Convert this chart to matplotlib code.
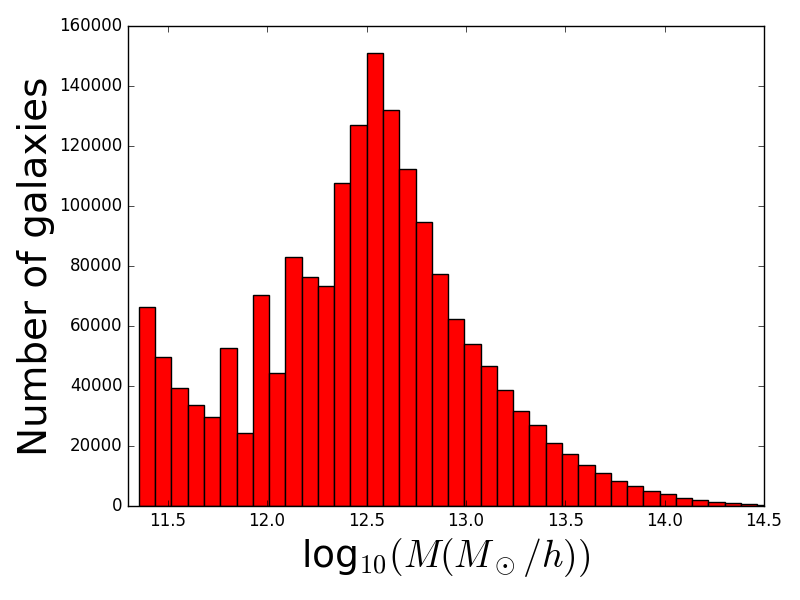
import numpy as np
import matplotlib
matplotlib.use('Agg')
import matplotlib.pyplot as plt

plt.style.use('classic')
plt.rcParams['mathtext.fontset'] = 'cm'

# histogram counts per bin
counts = [66400, 49600, 39200, 33600, 29600, 52600, 24200, 70200, 44200, 82900,
          76200, 73200, 107600, 126900, 150900, 131900, 112200, 94600, 77200, 62200,
          54100, 46600, 38600, 31600, 26900, 21000, 17200, 13600, 10900, 8300,
          6600, 4900, 3900, 2600, 1900, 1200, 900, 500, 200]
mass_min = 11.355
mass_max = 14.548

edges = np.linspace(mass_min, mass_max, len(counts) + 1)

fig = plt.figure(figsize=(8, 6), dpi=100)
ax = fig.add_axes([0.16, 0.1567, 0.795, 0.8])
ax.bar(edges[:-1], counts, width=np.diff(edges), align='edge',
       color='red', edgecolor='black', linewidth=1)
ax.set_xlim(11.3, 14.5)
ax.set_ylim(0, 160000)
ax.set_xticks([11.5, 12.0, 12.5, 13.0, 13.5, 14.0, 14.5])
ax.tick_params(labelsize=12)
ax.set_xlabel(r'log$_{10}(M(M_\odot/h))$', fontsize=27)
ax.set_ylabel('Number of galaxies', fontsize=28, labelpad=3)

fig.savefig('out.png', dpi=100)
